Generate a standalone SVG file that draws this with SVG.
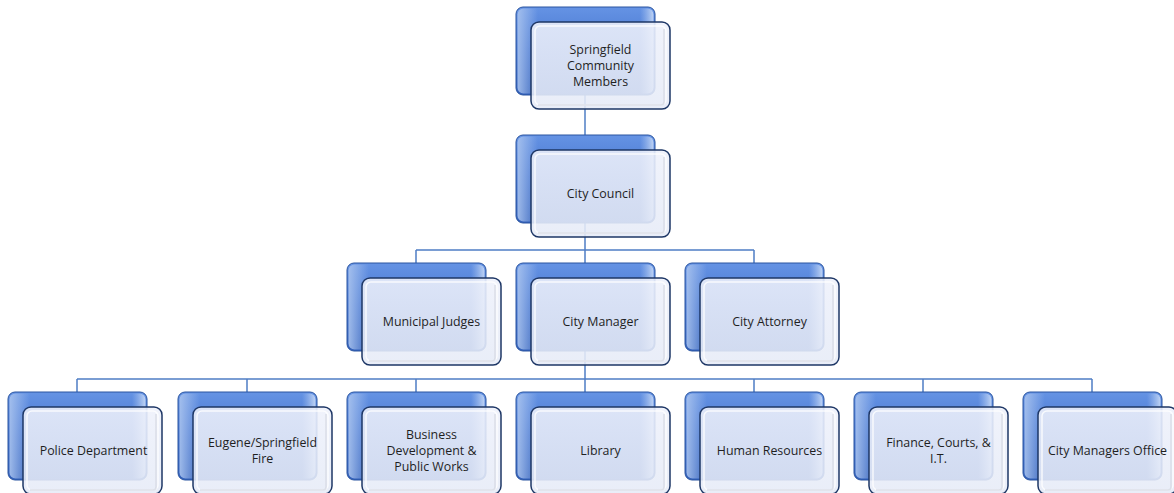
<svg xmlns="http://www.w3.org/2000/svg" width="1174" height="493" viewBox="0 0 1174 493">
<defs>
<linearGradient id="gBack" x1="0" y1="0" x2="0" y2="1">
<stop offset="0" stop-color="#6593e4"/>
<stop offset="0.5" stop-color="#4675cf"/>
<stop offset="1" stop-color="#3260ba"/>
</linearGradient>
<linearGradient id="gHi" x1="0" y1="0" x2="1" y2="0">
<stop offset="0" stop-color="#a9c3ee" stop-opacity="0.9"/>
<stop offset="0.15" stop-color="#a9c3ee" stop-opacity="0"/>
<stop offset="0.9" stop-color="#a9c3ee" stop-opacity="0"/>
<stop offset="1" stop-color="#c9dbf7" stop-opacity="0.9"/>
</linearGradient>
<linearGradient id="gFront" x1="0" y1="0" x2="0" y2="1">
<stop offset="0" stop-color="#eef1fb"/>
<stop offset="1" stop-color="#e6ebf7"/>
</linearGradient>
<g id="box">
<rect x="0" y="0" width="139" height="88" rx="7" fill="url(#gBack)" stroke="#2b55a0" stroke-width="1"/>
<rect x="1.5" y="1.5" width="136" height="85" rx="6" fill="url(#gHi)"/>
<rect x="15" y="15" width="139" height="87" rx="8" fill="url(#gFront)" fill-opacity="0.88" stroke="#1e3766" stroke-width="1.5"/>
<rect x="19" y="19" width="131" height="79" rx="5" fill="none" stroke="#ffffff" stroke-width="1.5" stroke-opacity="0.8"/>
<path d="M148,22 V95 Q148,98 145,98 H22" fill="none" stroke="#d4d8e2" stroke-width="1.5" stroke-opacity="0.8"/>
</g>
</defs>
<style>
.conn{fill:none;stroke:#4f7ec5;stroke-width:1.5}
.t{font-family:"Open Sans","Liberation Sans",sans-serif;font-size:12.4px;fill:#1f1f1f;text-anchor:middle}
</style>
<rect width="1174" height="493" fill="#ffffff"/>
<g id="connectors">
<path class="conn" d="M585,95 V135"/>
<path class="conn" d="M585,222 V250 M416,250 H754 M416,250 V263 M585,250 V263 M754,250 V263"/>
<path class="conn" d="M585,350 V379 M77,379 H1092 M77,379 V392 M247,379 V392 M416,379 V392 M585,379 V392 M754,379 V392 M923,379 V392 M1092,379 V392"/>
</g>
<g id="n-community"><use href="#box" x="516" y="7"/><text class="t" x="600.5" y="54"><tspan x="600.5" dy="0">Springfield</tspan><tspan x="600.5" dy="16">Community</tspan><tspan x="600.5" dy="16">Members</tspan></text></g>
<g id="n-council"><use href="#box" x="516" y="135"/><text class="t" x="600.5" y="198">City Council</text></g>
<g id="n-judges"><use href="#box" x="347" y="263"/><text class="t" x="431.5" y="326">Municipal Judges</text></g>
<g id="n-manager"><use href="#box" x="516" y="263"/><text class="t" x="600.5" y="326">City Manager</text></g>
<g id="n-attorney"><use href="#box" x="685" y="263"/><text class="t" x="769.5" y="326">City Attorney</text></g>
<g id="n-police"><use href="#box" x="8" y="392"/><text class="t" x="93.5" y="455">Police Department</text></g>
<g id="n-fire"><use href="#box" x="178" y="392"/><text class="t" x="262.5" y="447"><tspan x="262.5" dy="0">Eugene/Springfield</tspan><tspan x="262.5" dy="16">Fire</tspan></text></g>
<g id="n-business"><use href="#box" x="347" y="392"/><text class="t" x="431.5" y="439"><tspan x="431.5" dy="0">Business</tspan><tspan x="431.5" dy="16">Development &amp;</tspan><tspan x="431.5" dy="16">Public Works</tspan></text></g>
<g id="n-library"><use href="#box" x="516" y="392"/><text class="t" x="600.5" y="455">Library</text></g>
<g id="n-hr"><use href="#box" x="685" y="392"/><text class="t" x="769.5" y="455">Human Resources</text></g>
<g id="n-finance"><use href="#box" x="854" y="392"/><text class="t" x="938.5" y="447"><tspan x="938.5" dy="0">Finance, Courts, &amp;</tspan><tspan x="938.5" dy="16">I.T.</tspan></text></g>
<g id="n-cmo"><use href="#box" x="1023" y="392"/><text class="t" x="1107.5" y="455">City Managers Office</text></g>
</svg>
